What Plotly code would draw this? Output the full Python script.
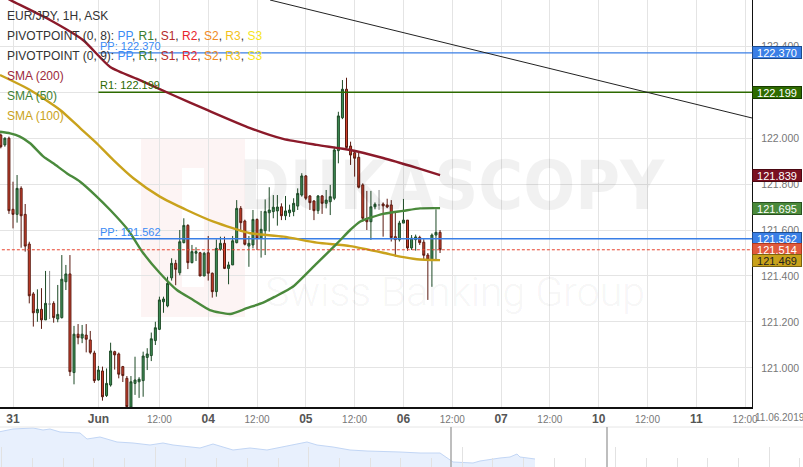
import plotly.graph_objects as go

# ---------------- data ----------------
# x = trading-hour index since 31 May 00:00 (weekend removed)
hours = list(range(-3, 106))
opens = [122.013, 121.970, 121.999, 121.690, 121.668, 121.781, 121.668, 121.539, 121.322, 121.240,
         121.255, 121.209, 121.278, 121.281, 121.213, 121.219, 121.375, 121.409, 120.980, 121.147,
         121.130, 121.143, 121.122, 121.065, 120.948, 120.987, 120.880, 120.926, 121.071, 121.061,
         121.006, 120.955, 120.830, 120.933, 120.940, 120.945, 121.046, 121.054, 121.119, 121.168,
         121.288, 121.270, 121.392, 121.455, 121.414, 121.545, 121.620, 121.458, 121.499, 121.501,
         121.400, 121.501, 121.412, 121.332, 121.516, 121.542, 121.433, 121.448, 121.545, 121.694,
         121.639, 121.530, 121.535, 121.646, 121.564, 121.597, 121.675, 121.680, 121.683, 121.701,
         121.662, 121.675, 121.680, 121.704, 121.752, 121.835, 121.748, 121.726, 121.684, 121.748,
         121.716, 121.723, 121.738, 121.945, 122.088, 122.212, 121.965, 121.936, 121.916, 121.796,
         121.650, 121.636, 121.701, 121.709, 121.713, 121.709, 121.709, 121.571, 121.558, 121.630,
         121.643, 121.522, 121.558, 121.568, 121.547, 121.491, 121.470, 121.578, 121.590]
highs = [122.020, 122.003, 122.006, 121.810, 121.839, 121.790, 121.713, 121.549, 121.330, 121.342,
         121.347, 121.422, 121.422, 121.290, 121.361, 121.491, 121.448, 121.491, 121.183, 121.191,
         121.187, 121.191, 121.161, 121.075, 121.009, 121.006, 120.998, 121.110, 121.075, 121.067,
         121.009, 120.965, 120.965, 121.049, 120.960, 121.071, 121.086, 121.154, 121.201, 121.310,
         121.310, 121.397, 121.477, 121.470, 121.600, 121.651, 121.625, 121.535, 121.525, 121.505,
         121.505, 121.574, 121.415, 121.559, 121.571, 121.571, 121.462, 121.574, 121.730, 121.704,
         121.645, 121.574, 121.687, 121.650, 121.683, 121.733, 121.786, 121.752, 121.752, 121.716,
         121.748, 121.710, 121.738, 121.781, 121.847, 121.839, 121.752, 121.730, 121.752, 121.752,
         121.774, 121.796, 121.962, 122.114, 122.252, 122.262, 121.984, 121.948, 121.940, 121.803,
         121.770, 121.770, 121.720, 121.774, 121.720, 121.736, 121.730, 121.675, 121.640, 121.735,
         121.643, 121.578, 121.580, 121.575, 121.560, 121.500, 121.585, 121.690, 121.600]
lows = [121.955, 121.962, 121.670, 121.607, 121.632, 121.523, 121.506, 121.281, 121.180, 121.201,
        121.170, 121.209, 121.213, 121.197, 121.199, 121.215, 121.339, 120.965, 120.929, 121.103,
        121.108, 121.068, 121.060, 120.935, 120.945, 120.858, 120.874, 120.919, 120.993, 120.955,
        120.939, 120.820, 120.820, 120.883, 120.870, 120.875, 120.991, 121.030, 121.100, 121.165,
        121.240, 121.264, 121.380, 121.360, 121.403, 121.542, 121.430, 121.455, 121.465, 121.400,
        121.400, 121.380, 121.306, 121.310, 121.510, 121.430, 121.364, 121.448, 121.542, 121.593,
        121.533, 121.440, 121.520, 121.513, 121.480, 121.491, 121.593, 121.651, 121.619, 121.643,
        121.643, 121.657, 121.660, 121.687, 121.745, 121.730, 121.687, 121.643, 121.670, 121.670,
        121.694, 121.665, 121.730, 121.890, 122.082, 121.955, 121.883, 121.832, 121.781, 121.636,
        121.600, 121.557, 121.690, 121.687, 121.571, 121.695, 121.550, 121.484, 121.550, 121.630,
        121.510, 121.513, 121.510, 121.535, 121.470, 121.296, 121.353, 121.470, 121.500]
closes = [121.962, 121.999, 121.684, 121.668, 121.781, 121.662, 121.530, 121.314, 121.240, 121.255,
          121.209, 121.281, 121.278, 121.219, 121.233, 121.386, 121.409, 120.984, 121.147, 121.132,
          121.147, 121.125, 121.068, 120.945, 120.991, 120.875, 120.933, 121.074, 121.057, 120.973,
          120.967, 120.832, 120.940, 120.948, 120.951, 121.052, 121.061, 121.127, 121.175, 121.296,
          121.300, 121.368, 121.455, 121.429, 121.549, 121.620, 121.458, 121.506, 121.506, 121.400,
          121.499, 121.412, 121.332, 121.520, 121.542, 121.433, 121.448, 121.553, 121.694, 121.632,
          121.538, 121.542, 121.646, 121.564, 121.603, 121.680, 121.687, 121.699, 121.700, 121.662,
          121.683, 121.687, 121.716, 121.759, 121.835, 121.738, 121.719, 121.684, 121.748, 121.716,
          121.730, 121.745, 121.948, 122.096, 122.212, 121.959, 121.926, 121.912, 121.786, 121.651,
          121.636, 121.701, 121.712, 121.709, 121.705, 121.700, 121.567, 121.558, 121.630, 121.643,
          121.522, 121.565, 121.570, 121.545, 121.490, 121.470, 121.578, 121.590, 121.514]

sma200_h = [-3.2, -0.7, 9.1, 17.2, 23.9, 31.2, 39.3, 47.7, 58.3, 66.4, 74.7, 82.9, 91.0, 99.3, 105.0]
sma200_v = [122.625, 122.600, 122.513, 122.426, 122.309, 122.252, 122.187, 122.122, 122.043, 121.996,
            121.970, 121.948, 121.913, 121.870, 121.839]
sma50_h = [-3.2, -0.7, 1.7, 4.2, 7.5, 9.9, 13.2, 16.5, 20.2, 23.9, 28.3, 32.0, 36.1, 40.3, 44.3,
           48.4, 53.4, 57.5, 61.5, 64.4, 68.8, 74.7, 79.7, 82.9, 85.3, 91.0, 95.9, 100.1, 105.0]
sma50_v = [122.027, 122.020, 122.006, 121.977, 121.919, 121.890, 121.847, 121.810, 121.752, 121.687,
           121.600, 121.500, 121.413, 121.339, 121.296, 121.252, 121.235, 121.260, 121.284, 121.310,
           121.353, 121.455, 121.542, 121.600, 121.636, 121.670, 121.683, 121.694, 121.695]
sma100_h = [-3.2, 4.2, 11.6, 16.5, 20.6, 24.7, 29.6, 36.1, 42.7, 49.3, 54.2, 58.3, 66.5, 74.7, 82.9,
            91.0, 95.2, 99.3, 105.0]
sma100_v = [122.274, 122.209, 122.122, 122.043, 121.977, 121.904, 121.825, 121.745, 121.687, 121.636,
            121.607, 121.586, 121.571, 121.545, 121.530, 121.501, 121.484, 121.473, 121.469]

trend_h = [63.2, 181.7]
trend_v = [122.600, 122.087]

pivot_start = 21
pp_0_8 = 121.562
pp_0_9 = 122.370
r1_0_9 = 122.199
last_price = 121.514

tick_hours = [0, 21, 36, 48, 60, 72, 84, 96, 108, 120, 132, 144, 156, 168, 180]
tick_labels = ["31", "Jun", "12:00", "04", "12:00", "05", "12:00", "06", "12:00", "07",
               "12:00", "10", "12:00", "11", "12:00"]
price_ticks = [121.0, 121.2, 121.4, 121.6, 121.8, 122.0, 122.2, 122.4, 122.6]

# navigator (overview) series
nav_t = [0, 13, 33, 43, 50, 60, 80, 87, 100, 117, 133, 150, 163, 173, 200, 213, 233, 250, 267, 283,
         307, 317, 333, 350, 367, 400, 420, 440, 453, 473, 480, 500, 510, 517, 520, 535]
nav_v = [35.3, 38.0, 39.0, 37.0, 38.0, 35.0, 34.0, 28.0, 30.0, 25.0, 24.0, 22.0, 24.0, 22.0, 19.0,
         23.0, 17.0, 19.0, 17.0, 20.0, 25.0, 22.0, 20.0, 17.0, 16.0, 15.0, 14.0, 14.0, 5.0, 4.0,
         6.0, 9.0, 10.0, 13.0, 10.0, 8.0]
nav_breaks = [451, 607]

# ---------------- figure ----------------
FONT = "Liberation Sans, Arial, sans-serif"
W, H = 803, 467
XDOM = 752 / W

fig = go.Figure()

up_idx = [i for i in range(len(hours)) if closes[i] > opens[i]]
dn_idx = [i for i in range(len(hours)) if closes[i] < opens[i]]
dj_idx = [i for i in range(len(hours)) if closes[i] == opens[i]]


def pick(arr, idx):
    return [arr[i] for i in idx]


for idx, fill, edge in [(up_idx, "#3f8f57", "#1d4a26"), (dn_idx, "#d0402c", "#5a1a10"),
                        (dj_idx, "#9a9a9a", "#8a8a8a")]:
    fig.add_trace(go.Candlestick(
        x=pick(hours, idx), open=pick(opens, idx), high=pick(highs, idx),
        low=pick(lows, idx), close=pick(closes, idx),
        increasing=dict(line=dict(color=edge, width=1), fillcolor=fill),
        decreasing=dict(line=dict(color=edge, width=1), fillcolor=fill),
        whiskerwidth=0, showlegend=False, hoverinfo="skip", xaxis="x", yaxis="y"))

xr = [-3.197, 181.7]

# pivot lines
for val, col in [(pp_0_9, "#3a7fe6"), (r1_0_9, "#2d6a00"), (pp_0_8, "#3a7fe6")]:
    fig.add_trace(go.Scatter(x=[pivot_start, xr[1] + 2], y=[val, val], mode="lines",
                             line=dict(color=col, width=1.3), hoverinfo="skip", showlegend=False))

# SMAs
for hh, vv, col in [(sma100_h, sma100_v, "#c9a21c"), (sma50_h, sma50_v, "#4a8a3c"),
                    (sma200_h, sma200_v, "#8b1a2a")]:
    fig.add_trace(go.Scatter(x=hh, y=vv, mode="lines",
                             line=dict(color=col, width=2.4, shape="spline", smoothing=0.6),
                             hoverinfo="skip", showlegend=False))

# trend line
fig.add_trace(go.Scatter(x=trend_h, y=trend_v, mode="lines", line=dict(color="#222", width=1),
                         hoverinfo="skip", showlegend=False))

# current price
fig.add_trace(go.Scatter(x=[xr[0] - 2, xr[1] + 2], y=[last_price, last_price], mode="lines",
                         line=dict(color="#e8432f", width=1, dash="3px,2px"),
                         hoverinfo="skip", showlegend=False))

# navigator
fig.add_trace(go.Scatter(x=nav_t, y=nav_v, mode="lines", fill="tozeroy",
                         line=dict(color="#c2d6f5", width=1), fillcolor="rgba(205,222,250,0.45)",
                         hoverinfo="skip", showlegend=False, xaxis="x2", yaxis="y2"))

tick_text = []
for t in tick_labels:
    if t == "12:00":
        tick_text.append("<span style='font-size:10px;color:#777'>12:00</span>")
    else:
        tick_text.append("<b>" + t + "</b>")

# 122.200 label is covered by the R1 price box in the reference
price_text = ["" if abs(v - 122.2) < 1e-9 else f"{v:.3f}" for v in price_ticks]

fig.update_layout(
    width=W, height=H, margin=dict(l=0, r=0, t=0, b=0, autoexpand=False),
    paper_bgcolor="white", plot_bgcolor="white", showlegend=False,
    font=dict(family=FONT, color="#333"),
    xaxis=dict(domain=[0, XDOM], range=xr, tickmode="array", tickvals=tick_hours, ticktext=tick_text,
               showgrid=True, gridcolor="#e4e4e4", gridwidth=1, zeroline=False, automargin=False,
               showline=True, linecolor="#111", linewidth=1.5, ticks="",
               rangeslider=dict(visible=False), tickfont=dict(family=FONT, size=12, color="#555"),
               anchor="y", fixedrange=True),
    yaxis=dict(domain=[60 / H, 1], range=[120.8304, 122.6], side="right", tickmode="array",
               tickvals=price_ticks, ticktext=price_text, automargin=False,
               showgrid=True, gridcolor="#e4e4e4", zeroline=False, showline=True,
               linecolor="#111", linewidth=1.2, ticks="", ticklabelstandoff=6,
               tickfont=dict(family=FONT, size=10.5, color="#777"), anchor="x", fixedrange=True),
    xaxis2=dict(domain=[0, 1], range=[0, W], anchor="y2", showgrid=False, showticklabels=False,
                zeroline=False, ticks="inside", tickmode="linear", tick0=1.7, dtick=153.5,
                ticklen=20, tickcolor="#e2e2e2", tickwidth=1, automargin=False,
                minor=dict(ticks="inside", tickmode="linear", tick0=1.7, dtick=30.7, ticklen=9,
                           tickcolor="#e2e2e2", tickwidth=1), fixedrange=True),
    yaxis2=dict(domain=[0, 40 / H], range=[0, 40], visible=False, fixedrange=True, automargin=False),
)

shapes = []


def px2x(p):
    return p / W


def px2y(p):
    return 1 - p / H


# Dukascopy logo watermark
shapes.append(dict(type="rect", xref="paper", yref="paper", x0=px2x(141), x1=px2x(245),
                   y0=px2y(317), y1=px2y(138), fillcolor="rgba(235,110,110,0.08)",
                   line=dict(width=0), layer="below"))
shapes.append(dict(type="rect", xref="paper", yref="paper", x0=px2x(182), x1=px2x(204),
                   y0=px2y(287), y1=px2y(168), fillcolor="white",
                   line=dict(width=0), layer="below"))
# navigator separator and week breaks
shapes.append(dict(type="line", xref="paper", yref="paper", x0=0, x1=1, y0=40 / H, y1=40 / H,
                   line=dict(color="#e6e6e6", width=1)))
for b in nav_breaks:
    shapes.append(dict(type="line", xref="x2", yref="paper", x0=b, x1=b, y0=0, y1=40 / H,
                       line=dict(color="#a8a8a8", width=1.5)))
fig.update_layout(shapes=shapes)

ann = []
# watermark text
ann.append(dict(text="<b>DUKASCOPY</b>", xref="paper", yref="paper", x=px2x(452), y=px2y(185),
                xanchor="center", yanchor="middle", showarrow=False,
                font=dict(family="DejaVu Sans Condensed, DejaVu Sans", size=68,
                          color="rgba(0,0,0,0.055)")))
ann.append(dict(text="Swiss Banking Group", xref="paper", yref="paper", x=px2x(455), y=px2y(292),
                xanchor="center", yanchor="middle", showarrow=False,
                font=dict(family="Roboto", size=41, weight=300, color="rgba(0,0,0,0.055)")))

# legend block
lines = [
    "EUR/JPY, 1H, ASK",
    "PIVOTPOINT (0, 8): <span style='color:#3b8bf5'>PP</span>, <span style='color:#3a7d2c'>R1</span>, "
    "<span style='color:#b52a2a'>S1</span>, <span style='color:#e8262b'>R2</span>, "
    "<span style='color:#f08a24'>S2</span>, <span style='color:#f2c21a'>R3</span>, "
    "<span style='color:#f5e51a'>S3</span>",
    "PIVOTPOINT (0, 9): <span style='color:#3b8bf5'>PP</span>, <span style='color:#3a7d2c'>R1</span>, "
    "<span style='color:#b52a2a'>S1</span>, <span style='color:#e8262b'>R2</span>, "
    "<span style='color:#f08a24'>S2</span>, <span style='color:#f2c21a'>R3</span>, "
    "<span style='color:#f5e51a'>S3</span>",
    "<span style='color:#9c2a3a'>SMA (200)</span>",
    "<span style='color:#3e7f31'>SMA (50)</span>",
    "<span style='color:#c9a21a'>SMA (100)</span>",
]
for i, t in enumerate(lines):
    ann.append(dict(text=t, xref="paper", yref="paper", x=px2x(5), y=px2y(16 + 20 * i),
                    xanchor="left", yanchor="middle", showarrow=False,
                    font=dict(family=FONT, size=12, color="#333")))

# pivot labels
for val, name, col in [(pp_0_9, "PP", "#3b8bf5"), (r1_0_9, "R1", "#2d6a00"), (pp_0_8, "PP", "#3b8bf5")]:
    ann.append(dict(text=f"{name}: {val:.3f}", xref="x", yref="y", x=pivot_start, y=val,
                    xanchor="left", yanchor="bottom", showarrow=False, yshift=-1,
                    font=dict(family=FONT, size=11, color=col)))

# price boxes on the right axis
boxes = [(pp_0_9, "#3a7fe6", "#1e4c8c", "white"), (r1_0_9, "#2e6b00", "#173a00", "white"),
         (121.839, "#7a1020", "#4a0812", "white"), (121.695, "#4a8a3a", "#2a5220", "white"),
         (pp_0_8, "#3a7fe6", "#1e4c8c", "white"), (last_price, "#e05a3d", "#b03a20", "white"),
         (121.469, "#c9a21a", "#7a6210", "#222")]
for val, bg, bd, fc in boxes:
    ann.append(dict(text=f"{val:.3f}", xref="paper", yref="y", x=XDOM, y=val, xanchor="left",
                    yanchor="middle", showarrow=False, bgcolor=bg, bordercolor=bd, borderwidth=1,
                    borderpad=0, width=48, height=11,
                    font=dict(family=FONT, size=11, color=fc)))

ann.append(dict(text="11.06.2019", xref="paper", yref="paper", x=px2x(780), y=px2y(417),
                xanchor="center", yanchor="middle", showarrow=False,
                font=dict(family=FONT, size=10, color="#777")))

fig.update_layout(annotations=ann)

fig.write_html("out.html", config={"displayModeBar": False},
               post_script="document.body.style.margin='0';document.body.style.overflow='hidden';")
